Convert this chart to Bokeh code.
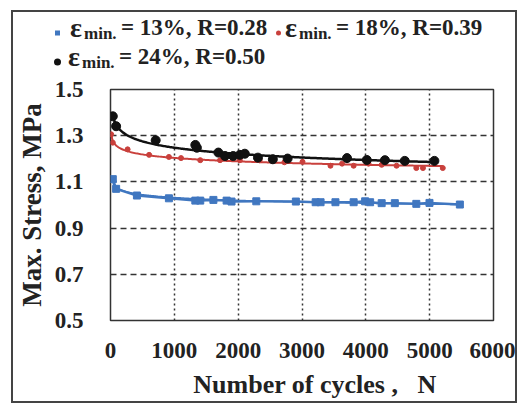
import numpy as np
from bokeh.plotting import figure
from bokeh.models import FixedTicker, Range1d, Div
from bokeh.layouts import column
from bokeh.embed import file_html
from bokeh.resources import INLINE

# ---- data ----
blue_n = [36, 88, 414, 915, 1329, 1406, 1612, 1819, 1896, 2284, 2904, 3214, 3291,
          3524, 3809, 3989, 4067, 4248, 4454, 4791, 4997, 5473]
blue_s = [1.112, 1.070, 1.041, 1.029, 1.019, 1.019, 1.022, 1.019, 1.015, 1.016, 1.015,
          1.012, 1.012, 1.012, 1.012, 1.016, 1.012, 1.008, 1.008, 1.005, 1.009, 1.002]

red_n = [10, 36, 268, 605, 915, 1105, 1406, 1716, 2026, 2336, 2543, 2724, 3008, 3446,
         3628, 3809, 4042, 4248, 4481, 4791, 4895, 5205]
red_s = [1.306, 1.270, 1.241, 1.217, 1.208, 1.203, 1.194, 1.194, 1.194, 1.194, 1.191,
         1.185, 1.187, 1.170, 1.179, 1.170, 1.179, 1.174, 1.170, 1.160, 1.160, 1.160]

black_n = [36, 88, 708, 1329, 1353, 1690, 1793, 1922, 2026, 2104, 2310, 2543, 2775,
           3705, 4015, 4299, 4610, 5074]
black_s = [1.384, 1.341, 1.280, 1.260, 1.248, 1.227, 1.212, 1.212, 1.217, 1.222, 1.205,
           1.198, 1.201, 1.203, 1.195, 1.194, 1.191, 1.191]

x_ticks = [0, 1000, 2000, 3000, 4000, 5000, 6000]
y_ticks = [0.5, 0.7, 0.9, 1.1, 1.3, 1.5]

legend_texts = ["= 13%, R=0.28", "= 18%, R=0.39", "= 24%, R=0.50"]

BLUE = "#4077c0"
RED = "#c9403c"
BLACK = "#111111"
FONT = "Liberation Serif"
TXT = "#222222"
NB = "\u00a0"

p = figure(width=502, height=329, output_backend="svg", toolbar_location=None,
           x_range=Range1d(0, 6000), y_range=Range1d(0.5, 1.5),
           min_border_left=93, min_border_right=22, min_border_top=17,
           min_border_bottom=80)

p.background_fill_color = "white"
p.border_fill_color = "white"
p.outline_line_color = "#333333"
p.outline_line_width = 1.5

for ax in (p.xaxis[0], p.yaxis[0]):
    ax.axis_line_color = None
    ax.major_tick_line_color = None
    ax.minor_tick_line_color = None
    ax.major_label_text_font = FONT
    ax.major_label_text_font_style = "bold"
    ax.major_label_text_font_size = "23px"
    ax.major_label_text_color = TXT
    ax.axis_label_text_font = FONT
    ax.axis_label_text_font_style = "bold"
    ax.axis_label_text_color = TXT

p.xaxis.axis_label_text_font_size = "26px"
p.yaxis.axis_label_text_font_size = "27px"
p.xaxis.ticker = FixedTicker(ticks=x_ticks)
p.yaxis.ticker = FixedTicker(ticks=y_ticks)
p.xaxis.major_label_standoff = 16
p.yaxis.major_label_standoff = 21
p.xaxis.axis_label = NB * 4 + "Number of cycles ," + NB * 3 + "N"
p.yaxis.axis_label = "Max. Stress, MPa"
p.xaxis.axis_label_standoff = 9
p.yaxis.axis_label_standoff = 5

p.xgrid.grid_line_color = "#333333"
p.xgrid.grid_line_dash = "2 3"
p.xgrid.grid_line_width = 1.5
p.ygrid.grid_line_color = "#333333"
p.ygrid.grid_line_dash = "6 4"
p.ygrid.grid_line_width = 1.5


def power_fit(n, s):
    n = np.asarray(n, float)
    s = np.asarray(s, float)
    b, lna = np.polyfit(np.log(n), np.log(s), 1)
    xs = np.linspace(n.min(), n.max(), 300)
    return xs, np.exp(lna) * xs ** b


xb, yb = power_fit(blue_n, blue_s)
p.line(blue_n, blue_s, line_color=BLUE, line_width=2.5)
p.line(xb, yb, line_color=BLUE, line_width=1.5)
p.scatter(blue_n, blue_s, marker="square", size=7, color=BLUE)

xr, yr = power_fit(red_n, red_s)
p.line(xr, yr, line_color=RED, line_width=2)
p.scatter(red_n, red_s, marker="circle", size=5, color=RED)

xk, yk = power_fit(black_n, black_s)
p.line(xk, yk, line_color=BLACK, line_width=2.5)
p.scatter(black_n, black_s, marker="circle", size=9, color=BLACK)

# ---- legend (above the plot, as SVG text inside a Div) ----
STY = f"font-family:'{FONT}';font-weight:bold;fill:{TXT};"


def entry(sym_svg, x0, base, txt):
    t = sym_svg
    t += (f'<text x="{x0 + 13}" y="{base + 2}" style="{STY}font-size:28px;">ε</text>'
          f'<text x="{x0 + 27}" y="{base + 4}" style="{STY}font-size:17px;">min.</text>'
          f'<text x="{x0 + 64}" y="{base}" style="{STY}font-size:23px;">{txt}</text>')
    return t


svg = ('<svg width="502" height="60" xmlns="http://www.w3.org/2000/svg" '
       'style="overflow:visible;display:block;">')
svg += entry(f'<rect x="42" y="18.5" width="5" height="5" fill="{BLUE}"/>', 44, 23,
             legend_texts[0])
svg += entry(f'<circle cx="265.5" cy="21" r="2.5" fill="{RED}"/>', 259, 23,
             legend_texts[1])
svg += entry(f'<circle cx="44.5" cy="50" r="3.5" fill="{BLACK}"/>', 42, 52,
             legend_texts[2])
svg += '</svg>'

legend_div = Div(text=svg, width=502, height=60,
                 styles={"margin": "0", "padding": "0", "line-height": "0",
                         "overflow": "visible"})

layout = column(legend_div, p, spacing=0,
                styles={"border": "2px solid #444444", "margin-left": "11px",
                        "margin-top": "10px", "background-color": "white"})

open("out.html", "w").write(file_html(layout, INLINE))
